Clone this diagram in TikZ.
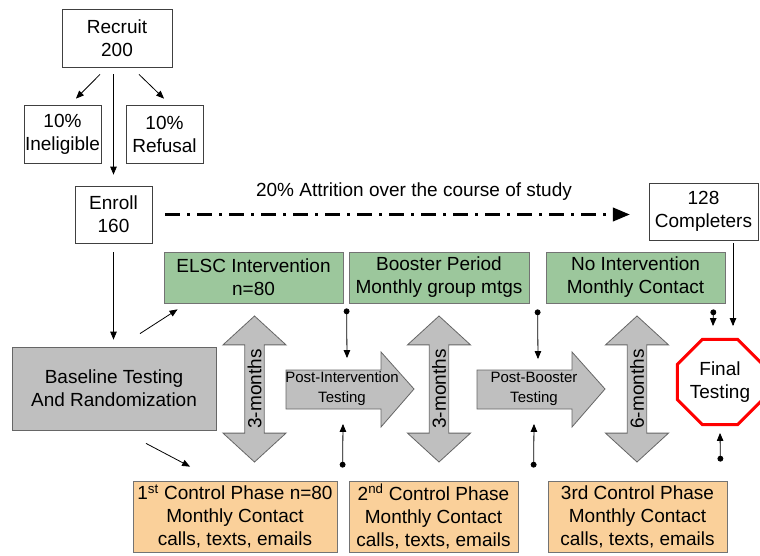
\documentclass[tikz,border=0pt]{standalone}
\usepackage{fontspec}
\setmainfont{Liberation Sans}
\usepackage[usenames,dvipsnames,svgnames,table]{xcolor}
\usetikzlibrary{arrows,shapes.geometric,shapes.arrows}
\definecolor{phasegreen}{RGB}{156,199,156}
\definecolor{phasetan}{RGB}{250,208,154}
\definecolor{testgray}{RGB}{191,191,191}
\newcommand{\bigtxt}{\fontsize{19}{23}\selectfont}
\newcommand{\smalltxt}{\fontsize{15}{20}\selectfont}
\newcommand{\testarrow}[1]{% right arrow with its tail at x=#1
  \draw[grayarrow] (#1,370) -- ++(95,0) -- ++(0,-18) -- ++(33,37) -- ++(-33,38) -- ++(0,-18) -- ++(-95,0) -- cycle;}
\tikzset{
  plainbox/.style={draw=black!75,fill=white,line width=0.8pt,inner sep=0pt,align=center,font=\bigtxt},
  greenbox/.style={plainbox,draw=black!55,fill=phasegreen,minimum width=179pt,minimum height=51pt},
  tanbox/.style={plainbox,draw=black!55,fill=phasetan,minimum height=71pt},
  grayarrow/.style={draw=black!60,fill=testgray,line width=0.8pt,inner sep=0pt},
  months/.style={grayarrow,double arrow,rotate=90,font=\bigtxt,minimum height=146pt,
    minimum width=63pt,double arrow head extend=16.5pt,double arrow tip angle=95}
}

\begin{document}
\begin{tikzpicture}[>=triangle 45,x=1pt,y=-1pt,line width=0.8pt]
\useasboundingbox (0,0) rectangle (760,556);
% recruitment
\node[plainbox,minimum width=110pt,minimum height=58pt] (recruit) at (117,38) {Recruit\\200};
\node[plainbox,minimum width=77pt,minimum height=58pt] (inel) at (62.5,134) {10\%\\Ineligible};
\node[plainbox,minimum width=77pt,minimum height=58pt] (refus) at (164.5,134) {10\%\\Refusal};
\node[plainbox,minimum width=77pt,minimum height=57pt] (enroll) at (113.5,214.5) {Enroll\\160};
\node[plainbox,minimum width=109pt,minimum height=57pt] (compl) at (703.5,211.5) {128\\Completers};
\node[font=\bigtxt] (attr) at (414,192) {20\% Attrition over the course of study};
\draw[->] ([shift={(-17,7)}]recruit.south) -- ([shift={(13.5,-6)}]inel.north);
\draw[->] ([shift={(22,7)}]recruit.south) -- ([shift={(-0.5,-6)}]refus.north);
\draw[->,shorten <=7pt,shorten >=11pt] (enroll.north |- recruit.south) -- (enroll.north);
\draw[->,line width=3pt,dash pattern=on 15pt off 7pt on 3pt off 7pt,shorten <=13pt,shorten >=19pt]
  (enroll.east) -- (enroll.east -| compl.west);

% phases
\node[greenbox] (elsc) at (253.5,277.5) {ELSC Intervention\\n=80};
\node[greenbox,minimum width=180pt] (boost) at (439,277.5) {Booster Period\\Monthly group mtgs};
\node[greenbox] (noint) at (635.5,277.5) {No Intervention\\Monthly Contact};
\node[plainbox,draw=black!60,fill=testgray,minimum width=204pt,minimum height=83pt] (base) at (114,388.5) {Baseline Testing\\And Randomization};
\node[tanbox,minimum width=204pt] (ctrl1) at (235,516.5) {1\textsuperscript{st} Control Phase n=80\\Monthly Contact\\calls, texts, emails};
\node[tanbox,minimum width=169pt] (ctrl2) at (433.5,516.5) {2\textsuperscript{nd} Control Phase\\Monthly Contact\\calls, texts, emails};
\node[tanbox,minimum width=179pt] (ctrl3) at (637.5,516.5) {3rd Control Phase\\Monthly Contact\\calls, texts, emails};

\node[months] (mon1) at (254.5,389) {3-months};
\node[months] (mon2) at (439,389) {3-months};
\node[months] (mon3) at (637,389) {6-months};
\testarrow{286}
\testarrow{477}
\node[align=center,font=\smalltxt] (post1) at (342,389) {Post-Intervention\\Testing};
\node[align=center,font=\smalltxt] (post2) at (534,389) {Post-Booster\\Testing};
\node[draw=red,line width=3pt,regular polygon,regular polygon sides=8,minimum size=88pt,
  inner sep=0pt,align=center,font=\bigtxt] (final) at (720,382) {Final\\Testing};

\draw[->,shorten <=9pt,shorten >=7pt] (enroll.south) -- (enroll.south |- base.north);
\draw[->] ([shift={(26,-13)}]base.north) -- ([shift={(-76,6)}]elsc.south);
\draw[->] ([shift={(32,13)}]base.south) -- ([shift={(-45,-14)}]ctrl1.north);
\draw[*->] ([shift={(-2,5)}]boost.south west) -- ([shift={(5,-31)}]post1.center);
\draw[*->] ([shift={(-6,-13)}]ctrl2.north west) -- ([shift={(1,35)}]post1.center);
\draw[*->] ([shift={(-8,6)}]noint.south west) -- ([shift={(4,-30)}]post2.center);
\draw[*->] ([shift={(-14,-13)}]ctrl3.north west) -- ([shift={(0,35)}]post2.center);
\draw[*->] ([shift={(-12,6)}]noint.south east) -- ([shift={(-7,-56)}]final.center);
\draw[*->] ([shift={(-7,-19)}]ctrl3.north east) -- ([shift={(0,51)}]final.center);
\draw[->,shorten <=3pt] ([xshift=29.5pt]compl.south) -- ([shift={(13,-56)}]final.center);
\end{tikzpicture}
\end{document}
